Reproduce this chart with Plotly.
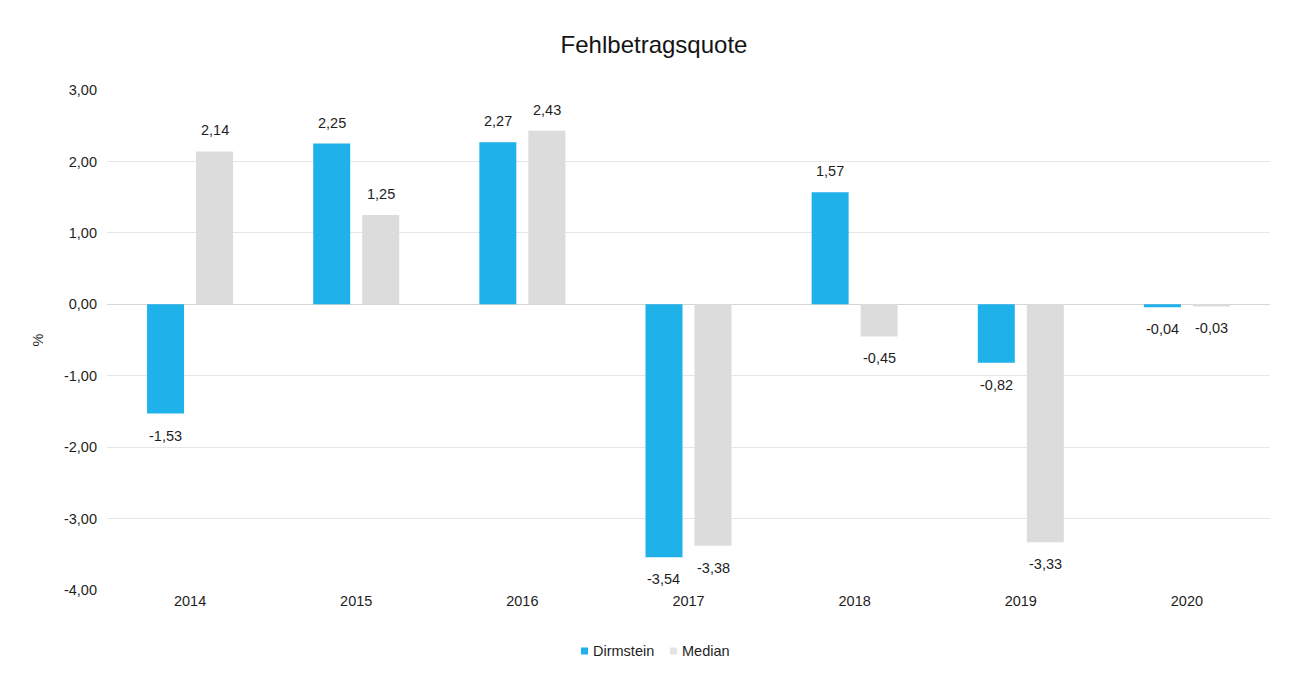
import plotly.graph_objects as go

years = ["2014", "2015", "2016", "2017", "2018", "2019", "2020"]
dirmstein = [-1.53, 2.25, 2.27, -3.54, 1.57, -0.82, -0.04]
median = [2.14, 1.25, 2.43, -3.38, -0.45, -3.33, -0.03]

tick_values = [3, 2, 1, 0, -1, -2, -3, -4]
tick_labels = ["3,00", "2,00", "1,00", "0,00", "-1,00", "-2,00", "-3,00", "-4,00"]

series_names = ["Dirmstein", "Median"]
series_colors = ["#1fb1ea", "#dcdcdc"]

font_family = "Liberation Sans, Arial, sans-serif"
text_color = "#1e1e1e"
label_size = 14.5

W, H = 1294, 679
M_L, M_R, M_T, M_B = 107, 24, 90, 89
PLOT_W = W - M_L - M_R
PLOT_H = H - M_T - M_B

BARGAP = 0.41
BARGROUPGAP = 0.245


def px_x(px):
    """Horizontal pixel position -> paper coordinate."""
    return (px - M_L) / PLOT_W


def px_y(py):
    """Vertical pixel position (from top) -> paper coordinate."""
    return (H - M_B - py) / PLOT_H


fig = go.Figure()
for name, color, values in zip(series_names, series_colors, [dirmstein, median]):
    fig.add_trace(go.Bar(
        name=name, x=years, y=values,
        marker=dict(color=color, line=dict(width=0)),
    ))

# value labels centred over each bar, above positive and below negative bars
slot = (1 - BARGAP) / 2
annotations = []
for offset, series in ((-slot / 2, dirmstein), (slot / 2, median)):
    for i, v in enumerate(series):
        annotations.append(dict(
            x=i + offset, y=v, xref="x", yref="y",
            text=f"{v:.2f}".replace(".", ","),
            showarrow=False, xanchor="center", yanchor="middle",
            yshift=21 if v >= 0 else -22,
            font=dict(size=label_size, color=text_color, family=font_family),
        ))

# compact legend below the axis: small square swatch followed by its name
shapes = []
legend_y = 651
legend_items = [(581, series_names[0], series_colors[0]),
                (670, series_names[1], "#e4e4e4")]
for x0, name, color in legend_items:
    shapes.append(dict(
        type="rect", xref="paper", yref="paper",
        x0=px_x(x0), x1=px_x(x0 + 7), y0=px_y(legend_y + 3.5), y1=px_y(legend_y - 3.5),
        fillcolor=color, line=dict(width=0), layer="above",
    ))
    annotations.append(dict(
        x=px_x(x0 + 10), y=px_y(legend_y), xref="paper", yref="paper",
        text=name, showarrow=False, xanchor="left", yanchor="middle",
        font=dict(size=label_size, color=text_color, family=font_family),
    ))

fig.update_layout(
    width=W, height=H,
    paper_bgcolor="white", plot_bgcolor="white",
    margin=dict(l=M_L, r=M_R, t=M_T, b=M_B),
    font=dict(family=font_family, size=label_size, color=text_color),
    title=dict(text="Fehlbetragsquote", x=654 / W, xanchor="center",
               y=1 - 45 / H, yanchor="middle",
               font=dict(size=24, color="#141414", family=font_family)),
    barmode="group", bargap=BARGAP, bargroupgap=BARGROUPGAP,
    showlegend=False,
    annotations=annotations,
    shapes=shapes,
    xaxis=dict(type="category", showgrid=False, showline=False, ticks="",
               tickfont=dict(size=label_size, color=text_color)),
    yaxis=dict(range=[-4, 3], tickvals=tick_values, ticktext=tick_labels,
               showgrid=True, gridcolor="#e6e6e6", gridwidth=1,
               zeroline=True, zerolinecolor="#d6d6d6", zerolinewidth=1,
               showline=False, ticks="", ticklabelstandoff=9,
               tickfont=dict(size=label_size, color=text_color),
               title=dict(text="%", standoff=16,
                          font=dict(size=label_size, color=text_color))),
)

fig.write_html("out.html")
